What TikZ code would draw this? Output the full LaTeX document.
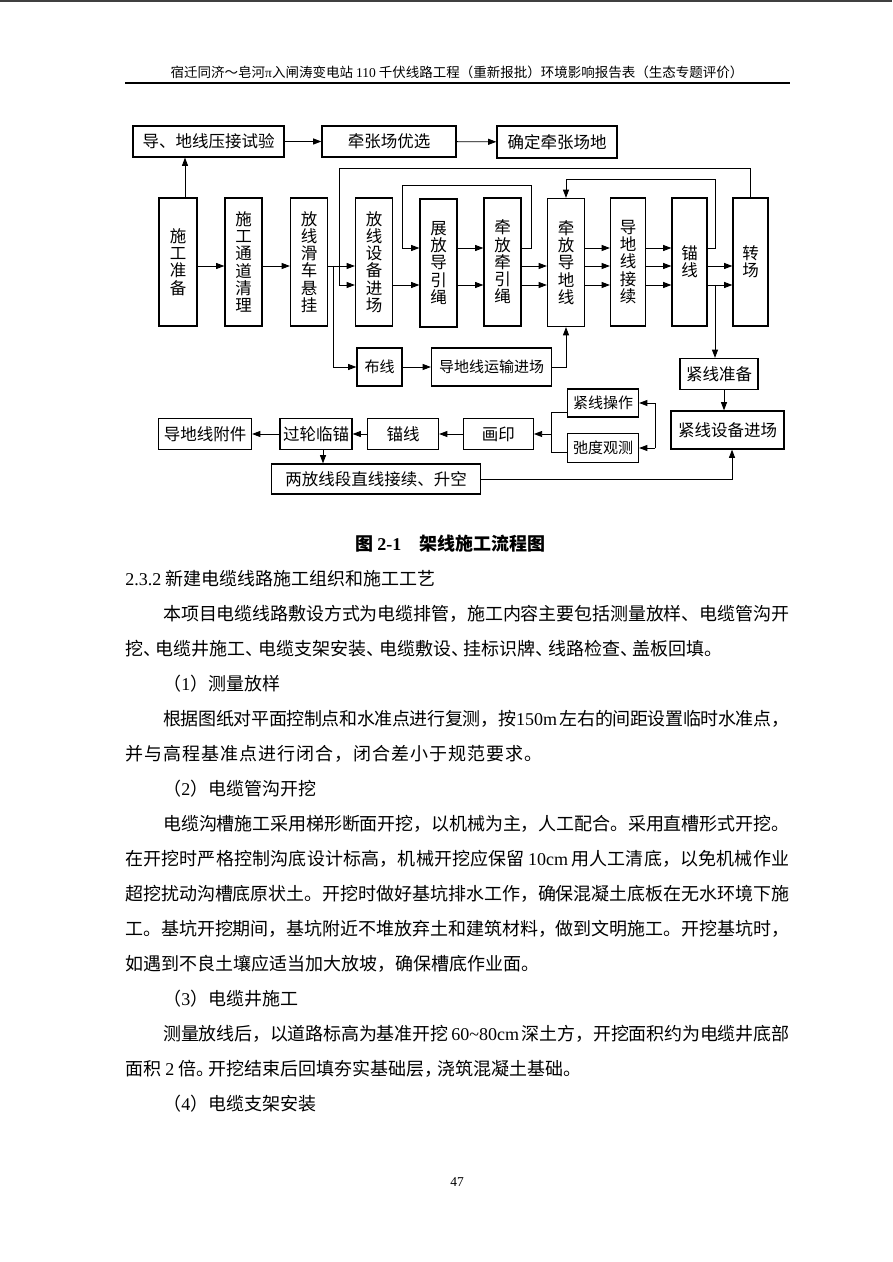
\documentclass[tikz,border=0pt]{standalone}
\usepackage{fontspec}
\setmainfont{Noto Sans CJK SC}
\newfontfamily\lat{Liberation Serif}
\usetikzlibrary{arrows.meta, positioning}

% inter-character glue for the justified body lines
\newXeTeXintercharclass\hanclass
\count255="4E00
\loop
  \XeTeXcharclass\count255=\hanclass
  \advance\count255 by 1
\ifnum\count255<"A000 \repeat
\XeTeXcharclass"3001=\hanclass
\XeTeXcharclass"3002=\hanclass
\XeTeXcharclass"FF0C=\hanclass
\XeTeXcharclass"FF08=\hanclass
\XeTeXcharclass"FF09=\hanclass
\XeTeXinterchartoks\hanclass\hanclass={\hskip 0.6667pt plus 2pt minus 1pt\relax}
\newcommand{\bodyfont}{\fontsize{12}{14}\selectfont\XeTeXinterchartokenstate=1 }
\newcommand{\jline}[2]{\makebox[#1][s]{#2}}
% compressed punctuation
\newcommand{\hw}[2][0.5em]{\makebox[#1][l]{#2}}

\begin{document}
\begin{tikzpicture}[x=0.6667pt, y=-0.6667pt, font=\fontsize{11}{11.5}\selectfont,
    sz/.style 2 args={minimum width=#1*0.6667pt, minimum height=#2*0.6667pt},
    box/.style={draw, line width=0.8pt, inner sep=0pt, align=center},
    tall/.style={box, sz={37}{128}},
    small/.style={font=\fontsize{10}{12}\selectfont},
    arr/.style={-{Triangle[length=5.5pt, width=4pt]}, line width=0.6pt},
    ln/.style={line width=0.6pt},
    para/.style={anchor=base west, inner sep=0pt, font=\bodyfont},
    plain/.style={anchor=base west, inner sep=0pt, font=\fontsize{12}{14}\selectfont}]
\useasboundingbox (0,0) rectangle (892,1262);
\fill[white] (0,0) rectangle (892,1262);
\fill[black!75] (0,0) rectangle (892,2);

% page header
\node[anchor=base, inner sep=0pt, font=\fontsize{9}{11}\selectfont] (hdr) at (457,78) {宿迁同济～皂河{\lat π}入闸涛变电站 {\lat 110} 千伏线路工程（重新报批）环境影响报告表（生态专题评价）};
\draw[line width=1pt] (125,83) -- (790,83);

% flow chart
\node[box, sz={151}{31}] (test) at (208.5,141.5) {导、地线压接试验};
\node[box, sz={134}{31}] (select) at (389,141.5) {牵张场优选};
\node[box, sz={120}{32}] (site) at (557,142) {确定牵张场地};

\node[tall, minimum width=38*0.6667pt] (prep) at (178,262) {施\\工\\准\\备};
\node[tall] (road) at (243.5,262) {施\\工\\通\\道\\清\\理};
\node[tall] (pulley) at (309,262) {放\\线\\滑\\车\\悬\\挂};
\node[tall] (equip) at (374,262) {放\\线\\设\\备\\进\\场};
\node[tall] (guide) at (438.5,263) {展\\放\\导\\引\\绳};
\node[tall] (pull) at (502.5,262) {牵\\放\\牵\\引\\绳};
\node[tall] (cond) at (566,262.5) {牵\\放\\导\\地\\线};
\node[tall, minimum width=35*0.6667pt] (joint) at (628,262) {导\\地\\线\\接\\续};
\node[tall, minimum width=35*0.6667pt] (anc) at (689.5,262) {锚\\线};
\node[tall, minimum width=35*0.6667pt] (move) at (750.5,262) {转\\场};

\node[box, small, sz={45}{38}] (lay) at (379.5,367) {布线};
\node[box, small, sz={120}{38}] (haul) at (491.5,367) {导地线运输进场};
\node[box, sz={78}{31}] (tprep) at (719,374) {紧线准备};

\node[box, sz={93}{31}] (fitting) at (205,434) {导地线附件};
\node[box, sz={72}{31}] (tmpanc) at (316,434) {过轮临锚};
\node[box, sz={71}{31}] (anc2) at (403,434) {锚线};
\node[box, sz={70}{31}] (mark) at (498.3,434) {画印};
\node[box, small, sz={71}{28}] (tension) at (603,403) {紧线操作};
\node[box, small, sz={71}{29}] (sag) at (603,448) {弛度观测};
\node[box, sz={113}{38}] (tequip) at (727.5,430) {紧线设备进场};
\node[box, sz={209}{30}] (splice) at (376,479) {两放线段直线接续、升空};

\coordinate (r1) at (0,248);
\coordinate (r2) at (0,266);
\coordinate (r3) at (0,285);
\coordinate (u1) at (185,0);
\coordinate (j1) at (333,266);
\coordinate (o1) at (339,168);
\coordinate (i1) at (531,185);
\coordinate (i2) at (402,185);
\coordinate (m1) at (715,179);
\coordinate (m2) at (715,285);
\coordinate (u4) at (724,0);
\coordinate (k1) at (655,0);
\coordinate (k2) at (551,412);
\coordinate (k3) at (551,452);
\coordinate (u2) at (323,0);
\coordinate (u3) at (732,0);

\draw[arr] (u1 |- prep.north) -- (u1 |- test.south);
\draw[arr] (test) -- (select);
\draw[arr] (select) -- (site);
\draw[arr] (prep.east |- r2) -- (road.west |- r2);
\draw[arr] (road.east |- r2) -- (pulley.west |- r2);
\draw[arr] (pulley.east |- r2) -- (equip.west |- r2);
\draw[arr] (j1) |- (lay.west);
\draw[arr] (move.north) |- (o1) |- (equip.west |- r3);
\draw[arr] (equip.east |- r3) -- (guide.west |- r3);
\draw[arr] (pull.east |- r1) -| (i1) -- (i2) |- (guide.west |- r1);
\draw[arr] (guide.east |- r1) -- (pull.west |- r1);
\draw[arr] (guide.east |- r3) -- (pull.west |- r3);
\draw[arr] (pull.east |- r2) -- (cond.west |- r2);
\draw[arr] (pull.east |- r3) -- (cond.west |- r3);
\foreach \r in {r1,r2,r3} {
  \draw[arr] (cond.east |- \r) -- (joint.west |- \r);
  \draw[arr] (joint.east |- \r) -- (anc.west |- \r);
}
\foreach \r in {r2,r3}
  \draw[arr] (anc.east |- \r) -- (move.west |- \r);
\draw[arr] (anc.east |- r1) -| (m1) -| (cond.north);
\draw[arr] (m2) -- (m2 |- tprep.north);
\draw[arr] (lay) -- (haul);
\draw[arr] (haul.east) -| (cond.south);
\draw[arr] (u4 |- tprep.south) -- (u4 |- tequip.north);

\draw[arr] (tmpanc) -- (fitting);
\draw[arr] (anc2) -- (tmpanc);
\draw[arr] (mark) -- (anc2);
\draw[arr] (k1 |- sag.east) -- (k1 |- tension.east) -- (tension.east);
\draw[arr] (k1 |- sag.east) -- (sag.east);
\draw[ln] (tension.west |- k2) -- (k2) -- (k3) -- (sag.west |- k3);
\draw[arr] (k2 |- mark.east) -- (mark.east);
\draw[arr] (u2 |- tmpanc.south) -- (u2 |- splice.north);
\draw[arr] (splice.east) -| (u3 |- tequip.south);

% caption and text
\node[anchor=base west, inner sep=0pt, font=\fontsize{12}{14}\selectfont\bfseries] (cap) at (355,550) {图 {\lat\bfseries 2-1}\quad 架线施工流程图};
\node[plain] (h1) at (125,585) {{\lat 2.3.2} 新建电缆线路施工组织和施工工艺};
\node[para] (p1) at (163,620) {\jline{417.3pt}{本项目电缆线路敷设方式为电缆排管，施工内容主要包括测量放样、电缆管沟开}};
\node[plain] (p2) at (125,655) {挖\hw[0.7em]{、}电缆井施工\hw[0.7em]{、}电缆支架安装\hw[0.7em]{、}电缆敷设\hw[0.7em]{、}挂标识牌\hw[0.7em]{、}线路检查\hw[0.7em]{、}盖板回填。};
\node[plain] (s1) at (163,690) {（{\lat 1}）测量放样};
\node[para] (p3) at (163,725) {\jline{417.3pt}{根据图纸对平面控制点和水准点进行复测，按{\lat 150m} 左右的间距设置临时水准点，}};
\node[para] (p4) at (125,760) {并与高程基准点进行闭合，闭合差小于规范要求。};
\node[plain] (s2) at (163,795) {（{\lat 2}）电缆管沟开挖};
\node[para] (p5) at (163,830) {\jline{417.3pt}{电缆沟槽施工采用梯形断面开挖，以机械为主，人工配合。采用直槽形式开挖。}};
\node[para] (p6) at (125,865) {\jline{442.7pt}{在开挖时严格控制沟底设计标高，机械开挖应保留 {\lat 10cm} 用人工清底，以免机械作业}};
\node[para] (p7) at (125,900) {\jline{442.7pt}{超挖扰动沟槽底原状土。开挖时做好基坑排水工作，确保混凝土底板在无水环境下施}};
\node[para] (p8) at (125,935) {\jline{442.7pt}{工。基坑开挖期间，基坑附近不堆放弃土和建筑材料，做到文明施工。开挖基坑时，}};
\node[plain] (p9) at (125,970) {如遇到不良土壤应适当加大放坡，确保槽底作业面。};
\node[plain] (s3) at (163,1005) {（{\lat 3}）电缆井施工};
\node[para] (p10) at (163,1040) {\jline{417.3pt}{测量放线后，以道路标高为基准开挖 {\lat 60\textasciitilde80cm} 深土方，开挖面积约为电缆井底部}};
\node[plain] (p11) at (125,1075) {面积 {\lat 2} 倍\hw[0.7em]{。}开挖结束后回填夯实基础层\hw[0.7em]{，}浇筑混凝土基础。};
\node[plain] (s4) at (163,1110) {（{\lat 4}）电缆支架安装};
\node[anchor=base, inner sep=0pt, font=\lat\fontsize{9}{11}\selectfont] (pg) at (457,1186) {47};
\end{tikzpicture}
\end{document}
